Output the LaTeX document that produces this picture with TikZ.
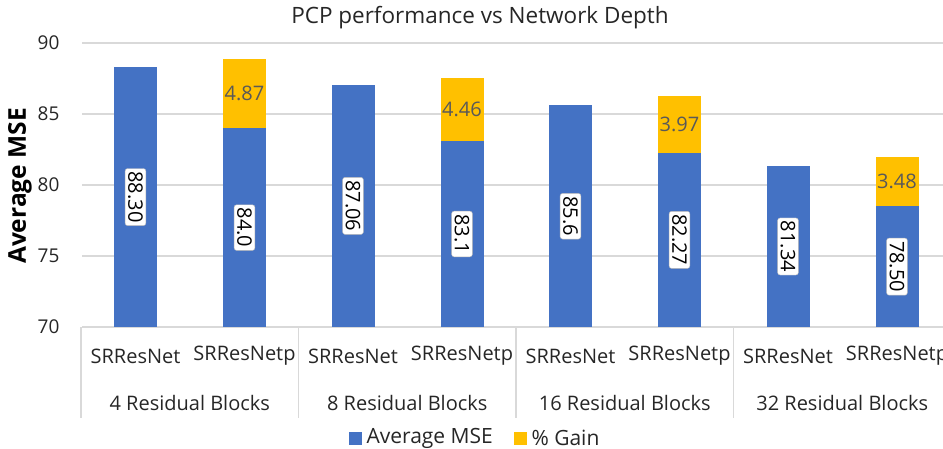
\documentclass[tikz,border=0pt]{standalone}
\usepackage{fontspec}
\setmainfont{Open Sans}
\definecolor{msebar}{HTML}{4472C4}
\definecolor{gainbar}{HTML}{FFC000}
\definecolor{gridgray}{HTML}{D9D9D9}
\definecolor{labelgray}{HTML}{595959}
\definecolor{textgray}{HTML}{262626}
\tikzset{
  gridline/.style={gridgray, line width=1.2pt},
  valbox/.style={draw=gray!55, fill=white, rounded corners=2.5pt, rotate=-90, inner sep=3pt,
    text=black, font=\fontsize{20}{20}\selectfont},
  gainlbl/.style={text=labelgray, font=\fontsize{20}{20}\selectfont},
  ticklbl/.style={anchor=east, text=textgray, font=\fontsize{19}{19}\selectfont},
  catlbl/.style={text=textgray, font=\fontsize{20}{20}\selectfont},
  legendbox/.style={minimum size=13pt, inner sep=0pt},
  legendtxt/.style={anchor=west, text=textgray, font=\fontsize{21}{21}\selectfont},
}
\begin{document}
\begin{tikzpicture}[x=1pt, y=-1pt]
\useasboundingbox (0,0) rectangle (943,449);
\begin{scope}
\clip (0,0) rectangle (943,449);
% title and axis label
\node[text=textgray, font=\fontsize{22.5}{22.5}\selectfont] (title) at (480,18) {PCP performance vs Network Depth};
\node[rotate=90, text=black, font=\bfseries\fontsize{24.5}{24.5}\selectfont] (ylabel) at (20,186) {Average MSE};
% grid and ticks
\foreach \v in {70,75,80,85,90} {
  \pgfmathsetmacro\yy{327-(\v-70)*14.2}
  \draw[gridline] (82,\yy) -- (943,\yy);
  \node[ticklbl] (tick\v) at (63,\yy) {\v};
}
% SRResNet bars
\foreach \name/\x/\v in {a/135.5/88.30, c/353/87.06, e/570.5/85.6, g/788/81.34} {
  \pgfmathsetmacro\ytop{327-(\v-70)*14.2}
  \fill[msebar] (\x-21.5,327) rectangle (\x+21.5,\ytop);
  \node[valbox] (val\name) at (\x,{(327+\ytop)/2}) {\v};
}
% SRResNetp bars with gain on top
\foreach \name/\x/\v/\g in {b/244.5/84.0/4.87, d/462/83.1/4.46, f/679.5/82.27/3.97, h/897/78.50/3.48} {
  \pgfmathsetmacro\ytop{327-(\v-70)*14.2}
  \pgfmathsetmacro\ygain{327-(\v+\g-70)*14.2}
  \fill[msebar] (\x-21.5,327) rectangle (\x+21.5,\ytop);
  \fill[gainbar] (\x-21.5,\ytop) rectangle (\x+21.5,\ygain);
  \node[valbox] (val\name) at (\x,{(327+\ytop)/2}) {\v};
  \node[gainlbl] (gain\name) at (\x,{(\ytop+\ygain)/2}) {\g};
}
% category axis
\foreach \i/\n in {0/4,1/8,2/16,3/32} {
  \pgfmathsetmacro\gx{81+217.5*\i}
  \draw[gridline] (\gx,327) -- (\gx,418);
  \node[catlbl] (net\n) at (\gx+54.5,356) {SRResNet};
  \node[catlbl] (netp\n) at (\gx+163.5,356) {SRResNetp};
  \node[catlbl] (grp\n) at (\gx+108.75,403) {\n\ Residual Blocks};
}
% legend
\node[legendbox, fill=msebar] (legmse) at (355,438) {};
\node[legendtxt] (legmsetxt) at (363,438) {Average MSE};
\node[legendbox, fill=gainbar] (leggain) at (520,438) {};
\node[legendtxt] (leggaintxt) at (528,438) {\% Gain};
\end{scope}
\end{tikzpicture}
\end{document}
